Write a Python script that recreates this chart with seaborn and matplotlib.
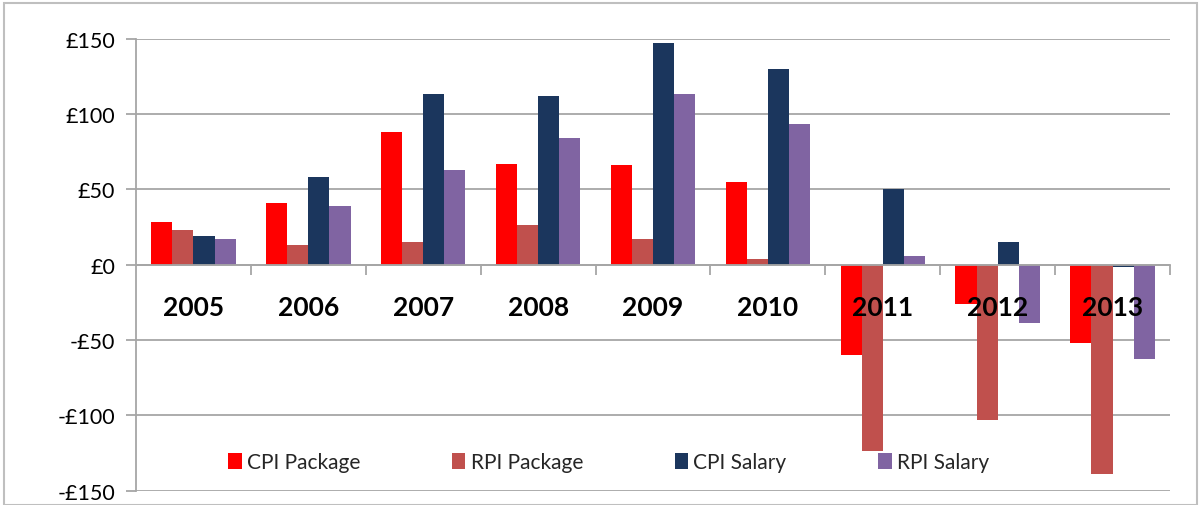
import matplotlib
matplotlib.use("Agg")
import matplotlib.pyplot as plt
import seaborn as sns
import pandas as pd
from matplotlib.ticker import FuncFormatter, FixedLocator
from matplotlib.patches import Rectangle

years = ["2005", "2006", "2007", "2008", "2009", "2010", "2011", "2012", "2013"]
series_names = ["CPI Package", "RPI Package", "CPI Salary", "RPI Salary"]
cpi_package = [28, 41, 88, 67, 66, 55, -60, -26, -52]
rpi_package = [23, 13, 15, 26, 17, 3.5, -124, -103, -139]
cpi_salary = [19, 58, 113, 112, 147, 130, 50, 15, -1.5]
rpi_salary = [17, 39, 63, 84, 113, 93, 5.5, -39, -63]
colors = ["#FF0000", "#C0504D", "#1B365D", "#8064A2"]

rows = []
for name, vals in zip(series_names, [cpi_package, rpi_package, cpi_salary, rpi_salary]):
    for y, v in zip(years, vals):
        rows.append({"Year": y, "Series": name, "Value": v})
df = pd.DataFrame(rows)

sns.set_theme(style="white")
plt.rcParams["font.family"] = ["Lato", "DejaVu Sans"]

fig = plt.figure(figsize=(12.01, 5.06), dpi=100)
fig.patch.set_facecolor("white")
ax = fig.add_axes([136 / 1201, 1 - 491.5 / 506, (1170 - 136) / 1201, (491.5 - 39.5) / 506])

sns.barplot(data=df, x="Year", y="Value", hue="Series", hue_order=series_names,
            order=years, palette=colors, width=0.735, edgecolor="none",
            linewidth=0, ax=ax, errorbar=None, saturation=1)

ax.set_xlim(-0.5, 8.5)
ax.set_ylim(-150, 150)
ax.set_yticks([-150, -100, -50, 0, 50, 100, 150])
ax.yaxis.set_major_formatter(FuncFormatter(lambda v, p: ("-£%d" % abs(v)) if v < 0 else "£%d" % v))
ax.yaxis.grid(True, color="#A6A6A6", linewidth=1.3)
ax.set_axisbelow(True)
ax.set_xlabel("")
ax.set_ylabel("")

for s in ["top", "right"]:
    ax.spines[s].set_visible(False)
ax.spines["left"].set_color("#A6A6A6")
ax.spines["left"].set_linewidth(1.3)
ax.spines["bottom"].set_position(("data", 0))
ax.spines["bottom"].set_color("#A6A6A6")
ax.spines["bottom"].set_linewidth(1.3)
ax.spines["bottom"].set_zorder(5)

ax.set_xticks([])
ax.xaxis.set_minor_locator(FixedLocator([i + 0.5 for i in range(9)]))
ax.tick_params(axis="x", which="minor", direction="out", length=7, width=1.3, color="#A6A6A6", bottom=True)
ax.tick_params(axis="y", which="major", direction="out", length=7, width=1.3, color="#A6A6A6",
               left=True, labelsize=15.5, labelcolor="black", pad=8)

for i, y in enumerate(years):
    ax.text(i, -28, y, ha="center", va="center", fontsize=19, fontweight="bold", color="black", zorder=6)

handles, labels = ax.get_legend_handles_labels()
leg = ax.legend(handles, labels, loc="center", bbox_to_anchor=(0.457, 0.063), ncol=4,
                frameon=False, fontsize=15, handlelength=0.65, handleheight=0.8,
                handletextpad=0.25, columnspacing=4.4)

fig.add_artist(Rectangle((4 / 1201, 0), (1197 - 4) / 1201, 1 - 4 / 506, transform=fig.transFigure,
                         fill=False, edgecolor="#BFBFBF", linewidth=1.5))

fig.savefig("out.png", dpi=100, facecolor="white")
